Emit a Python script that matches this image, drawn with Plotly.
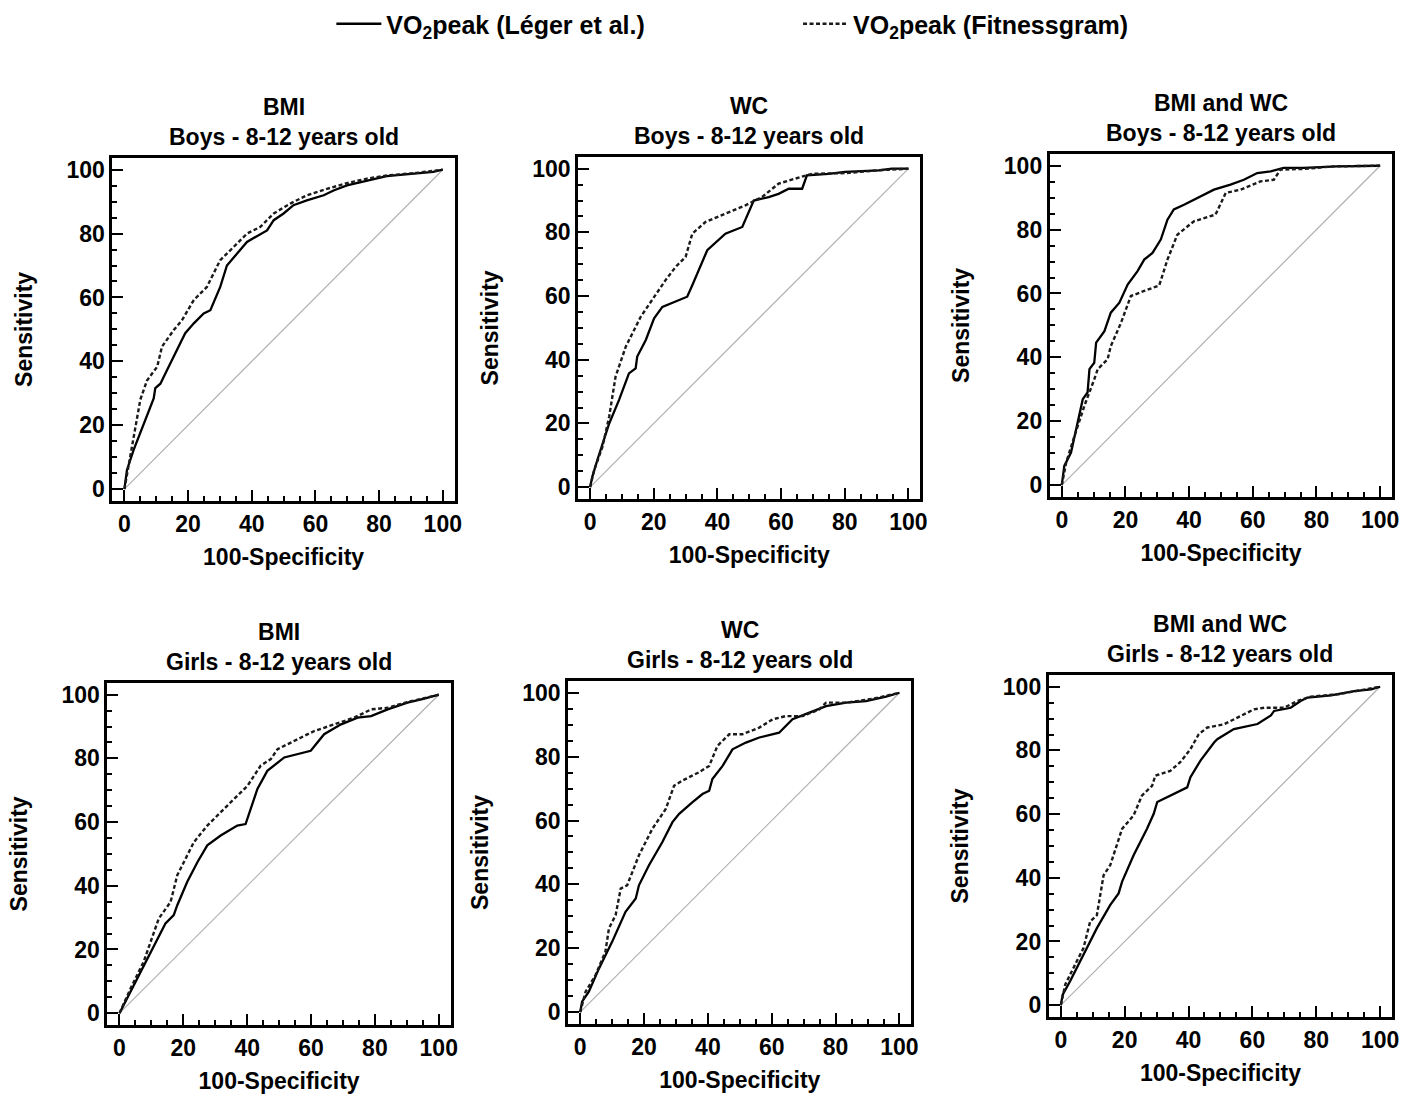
import plotly.graph_objects as go

# ---------------- data ----------------
panel_titles = [
    "BMI<br>Boys - 8-12 years old",
    "WC<br>Boys - 8-12 years old",
    "BMI and WC<br>Boys - 8-12 years old",
    "BMI<br>Girls - 8-12 years old",
    "WC<br>Girls - 8-12 years old",
    "BMI and WC<br>Girls - 8-12 years old",
]
series_names = ["VO<sub>2</sub>peak (Léger et al.)", "VO<sub>2</sub>peak (Fitnessgram)"]
tick_values = [0, 20, 40, 60, 80, 100]
x_title = "100-Specificity"
y_title = "Sensitivity"
diag_x = [0, 100]
diag_y = [0, 100]

# BMI - Boys
bmi_boys_leger_x = [0, 0.8, 2.9, 6.1, 9.2, 9.7, 11.3, 13.4, 16.5, 19.1, 21.8, 24.9, 27.0, 30.1, 32.2, 35.4, 38.5, 41.6, 44.8, 46.9, 50.0, 53.1, 57.3, 62.6, 65.7, 69.9, 74.0, 78.2, 82.4, 86.6, 91.8, 97.0, 100]
bmi_boys_leger_y = [0, 6.0, 12.3, 20.6, 28.4, 31.6, 33.0, 37.3, 43.5, 48.8, 51.9, 55.0, 56.0, 63.3, 70.0, 73.8, 77.4, 79.2, 81.0, 84.2, 86.3, 88.9, 90.4, 92.0, 93.5, 95.1, 96.1, 97.0, 98.0, 98.4, 98.8, 99.3, 100]
bmi_boys_fit_x = [0, 1.4, 2.9, 5.0, 7.1, 10.3, 11.8, 15.5, 18.1, 21.8, 25.9, 30.1, 34.3, 38.5, 42.7, 46.9, 52.1, 57.3, 63.6, 69.9, 76.2, 82.4, 91.8, 100]
bmi_boys_fit_y = [0, 8.0, 15.4, 28.0, 34.0, 38.3, 44.6, 49.8, 52.9, 59.2, 63.3, 71.7, 75.8, 80.0, 82.1, 86.3, 89.4, 92.0, 94.0, 95.8, 97.2, 98.2, 99.0, 100]

# WC - Boys
wc_boys_leger_x = [0, 0.7, 2.3, 3.9, 6.0, 9.1, 12.2, 14.3, 14.8, 17.5, 20.1, 22.7, 26.9, 30.5, 32.1, 36.8, 42.5, 47.8, 51.4, 56.1, 59.2, 62.4, 66.6, 68.1, 74.9, 80.1, 90.6, 94.8, 100]
wc_boys_leger_y = [0, 3.3, 8.6, 13.8, 20.0, 27.4, 35.7, 37.3, 41.0, 46.2, 53.0, 56.6, 58.2, 59.8, 63.4, 74.4, 79.6, 81.7, 90.0, 91.1, 92.1, 93.7, 93.7, 97.9, 98.4, 99.0, 99.5, 100, 100]
wc_boys_fit_x = [0, 1.3, 3.9, 6.0, 8.0, 10.1, 11.2, 15.9, 20.1, 23.7, 26.9, 30.0, 32.1, 36.3, 42.5, 48.8, 54.0, 59.2, 64.5, 69.7, 80.1, 90.6, 100]
wc_boys_fit_y = [0, 5.4, 12.7, 22.2, 34.7, 41.0, 44.1, 53.5, 59.8, 65.0, 69.2, 72.3, 79.6, 83.3, 85.9, 88.5, 91.1, 95.3, 96.9, 98.4, 98.6, 99.5, 100]

# BMI and WC - Boys
bmiwc_boys_leger_x = [0, 0.8, 2.9, 5.0, 6.6, 8.1, 8.7, 10.2, 10.8, 13.4, 15.4, 18.1, 20.7, 23.8, 25.9, 28.5, 31.1, 33.2, 35.2, 38.4, 42.6, 47.8, 53.0, 57.2, 61.4, 65.6, 69.7, 76.0, 86.4, 100]
bmiwc_boys_leger_y = [0, 6.0, 10.2, 19.6, 26.9, 29.0, 36.3, 38.3, 44.6, 48.2, 54.0, 57.1, 62.8, 67.0, 70.6, 72.7, 76.9, 83.1, 86.3, 87.8, 89.9, 92.5, 94.1, 95.6, 97.7, 98.2, 99.3, 99.3, 99.8, 100]
bmiwc_boys_fit_x = [0, 1.4, 4.0, 7.1, 10.2, 11.3, 14.4, 15.4, 18.6, 21.7, 25.9, 30.6, 33.2, 36.3, 41.5, 48.3, 51.5, 56.2, 62.4, 66.6, 68.7, 76.0, 85.4, 100]
bmiwc_boys_fit_y = [0, 7.1, 15.4, 24.8, 33.1, 36.3, 39.4, 43.5, 50.8, 59.2, 60.8, 62.5, 70.6, 78.4, 82.6, 84.7, 91.5, 92.5, 95.1, 95.6, 98.8, 99.0, 99.8, 100]

# BMI - Girls
bmi_girls_leger_x = [0, 2.4, 6.6, 10.8, 14.4, 17.0, 18.1, 21.2, 24.4, 27.5, 31.7, 36.9, 39.5, 43.2, 46.3, 51.6, 59.9, 64.1, 69.4, 74.6, 78.8, 84.0, 90.2, 95.5, 100]
bmi_girls_leger_y = [0, 4.7, 13.0, 21.4, 28.2, 30.8, 33.9, 41.2, 47.4, 52.7, 55.8, 58.9, 59.4, 70.4, 76.1, 80.3, 82.4, 87.6, 90.7, 92.8, 93.3, 95.4, 97.5, 98.8, 100]
bmi_girls_fit_x = [0, 3.5, 7.6, 12.3, 16.0, 18.1, 23.3, 27.5, 33.8, 40.1, 44.2, 47.4, 49.5, 54.7, 61.0, 67.3, 73.5, 78.8, 84.0, 90.2, 100]
bmi_girls_fit_y = [0, 7.8, 16.2, 29.7, 34.9, 43.3, 53.7, 58.9, 65.2, 71.4, 77.7, 79.8, 82.9, 85.5, 88.6, 90.7, 92.8, 95.4, 95.9, 97.7, 100]

# WC - Girls
wc_girls_leger_x = [0, 0.6, 2.7, 5.9, 10.0, 14.2, 17.4, 18.4, 21.5, 25.7, 28.9, 31.0, 35.1, 38.3, 40.4, 41.4, 44.6, 47.7, 51.9, 56.1, 62.3, 66.5, 71.8, 77.0, 83.3, 89.5, 95.8, 100]
wc_girls_leger_y = [0, 3.3, 6.4, 13.7, 22.0, 31.4, 35.6, 39.7, 45.9, 53.2, 59.5, 62.1, 65.7, 68.3, 69.3, 73.0, 77.1, 82.3, 84.4, 86.0, 87.5, 91.7, 93.8, 95.8, 96.9, 97.4, 98.8, 100]
wc_girls_fit_x = [0, 1.7, 4.8, 7.9, 9.0, 11.1, 12.7, 14.7, 18.4, 22.6, 26.8, 29.4, 32.0, 37.2, 40.4, 43.0, 46.7, 50.8, 56.1, 60.3, 64.4, 69.7, 74.9, 77.0, 83.3, 91.6, 100]
wc_girls_fit_y = [0, 6.4, 11.6, 18.9, 26.2, 30.4, 38.7, 39.7, 49.1, 57.4, 63.6, 70.9, 72.5, 75.1, 77.1, 83.4, 87.0, 87.0, 89.1, 91.7, 92.7, 92.7, 94.8, 96.9, 96.9, 98.1, 100]

# BMI and WC - Girls
bmiwc_girls_leger_x = [0, 0.6, 2.9, 7.1, 11.3, 15.5, 18.1, 19.2, 22.8, 27.0, 29.1, 30.2, 34.3, 39.6, 40.6, 43.8, 48.0, 49.0, 54.2, 61.6, 65.8, 66.8, 72.0, 75.1, 77.3, 84.6, 91.9, 97.2, 100]
bmiwc_girls_leger_y = [0, 3.3, 7.5, 15.8, 24.2, 31.5, 35.1, 38.8, 47.1, 55.4, 60.1, 63.8, 65.8, 68.4, 71.6, 76.9, 82.5, 83.5, 86.7, 88.3, 91.0, 92.4, 93.4, 95.5, 96.6, 97.3, 98.6, 99.2, 100]
bmiwc_girls_fit_x = [0, 1.4, 5.0, 7.1, 9.2, 11.3, 13.4, 15.5, 19.2, 22.8, 25.4, 28.6, 29.6, 34.3, 37.4, 40.6, 43.2, 45.9, 51.1, 55.3, 60.5, 63.7, 69.9, 74.1, 78.3, 86.6, 94.0, 100]
bmiwc_girls_fit_y = [0, 6.5, 13.8, 17.9, 26.3, 28.3, 40.8, 44.0, 55.4, 59.6, 65.8, 68.9, 72.1, 73.6, 76.3, 80.4, 85.1, 87.2, 88.2, 90.3, 92.9, 93.4, 93.4, 95.5, 96.9, 97.6, 99.0, 100]

panels = [
    (bmi_boys_leger_x, bmi_boys_leger_y, bmi_boys_fit_x, bmi_boys_fit_y),
    (wc_boys_leger_x, wc_boys_leger_y, wc_boys_fit_x, wc_boys_fit_y),
    (bmiwc_boys_leger_x, bmiwc_boys_leger_y, bmiwc_boys_fit_x, bmiwc_boys_fit_y),
    (bmi_girls_leger_x, bmi_girls_leger_y, bmi_girls_fit_x, bmi_girls_fit_y),
    (wc_girls_leger_x, wc_girls_leger_y, wc_girls_fit_x, wc_girls_fit_y),
    (bmiwc_girls_leger_x, bmiwc_girls_leger_y, bmiwc_girls_fit_x, bmiwc_girls_fit_y),
]

# ---------------- layout geometry (pixels) ----------------
W, H = 1419, 1097
frames = [  # left, right, top, bottom of each plot frame
    (113, 457, 157, 501),
    (581, 925, 156, 499),
    (1055, 1399, 153, 497),
    (108, 453, 683, 1026),
    (571, 916, 681, 1025),
    (1054, 1399, 675, 1018),
]
FONT = "Liberation Sans, Arial, sans-serif"
FS = 23
pad = 3.76
rng = [-pad, 100 + pad]

fig = go.Figure()
layout = dict(
    width=W, height=H,
    margin=dict(l=0, r=0, t=0, b=0),
    paper_bgcolor="white", plot_bgcolor="white",
    font=dict(family=FONT, color="black", size=FS, weight="bold"),
    showlegend=True,
    annotations=[],
)

for i, (lx, ly, fx, fy) in enumerate(panels):
    n = i + 1
    xa = "x" if n == 1 else f"x{n}"
    ya = "y" if n == 1 else f"y{n}"
    fig.add_trace(go.Scatter(x=diag_x, y=diag_y, xaxis=xa, yaxis=ya, mode="lines",
                             line=dict(color="#b0b0b0", width=1.2), showlegend=False, hoverinfo="skip"))
    fig.add_trace(go.Scatter(x=lx, y=ly, xaxis=xa, yaxis=ya, mode="lines",
                             line=dict(color="black", width=2.3),
                             name=series_names[0], legend="legend",
                             showlegend=(n == 1)))
    fig.add_trace(go.Scatter(x=fx, y=fy, xaxis=xa, yaxis=ya, mode="lines",
                             line=dict(color="#1a1a1a", width=2.4, dash="4px,2.5px"),
                             name=series_names[1], legend="legend2",
                             showlegend=(n == 1)))
    l, r, t, b = frames[i]
    common = dict(
        range=rng, tickvals=tick_values, ticks="inside", ticklen=11, tickwidth=2,
        tickcolor="black", showline=True, linewidth=3, linecolor="black", mirror=True,
        showgrid=False, zeroline=False, fixedrange=True,
        tickfont=dict(family=FONT, size=FS, color="black", weight="bold"),
        minor=dict(ticks="inside", ticklen=5, tickwidth=1.5, tickcolor="black", dtick=5, tick0=0),
    )
    layout["xaxis" if n == 1 else f"xaxis{n}"] = dict(
        common, domain=[l / W, r / W], anchor=ya,
        title=dict(text=x_title, font=dict(family=FONT, size=FS, weight="bold"), standoff=14),
    )
    layout["yaxis" if n == 1 else f"yaxis{n}"] = dict(
        common, domain=[1 - b / H, 1 - t / H], anchor=xa,
        title=dict(text=y_title, font=dict(family=FONT, size=FS, weight="bold"), standoff=28),
    )
    layout["annotations"].append(dict(
        text=panel_titles[i], xref="paper", yref="paper",
        x=(l + r) / 2 / W, y=1 - (t - 6) / H, xanchor="center", yanchor="bottom",
        showarrow=False, font=dict(family=FONT, size=FS, weight="bold", color="black"),
    ))

layout["legend"] = dict(orientation="h", x=333 / W, y=1.0, xanchor="left", yanchor="top",
                        font=dict(family=FONT, size=25, weight="bold"), itemwidth=45,
                        bgcolor="rgba(0,0,0,0)")
layout["legend2"] = dict(orientation="h", x=802 / W, y=1.0, xanchor="left", yanchor="top",
                         font=dict(family=FONT, size=25, weight="bold"), itemwidth=45,
                         bgcolor="rgba(0,0,0,0)")

fig.update_layout(**layout)
fig.write_html("out.html", config={"displayModeBar": False},
               post_script="document.body.style.margin='0';document.body.style.overflow='hidden';")
